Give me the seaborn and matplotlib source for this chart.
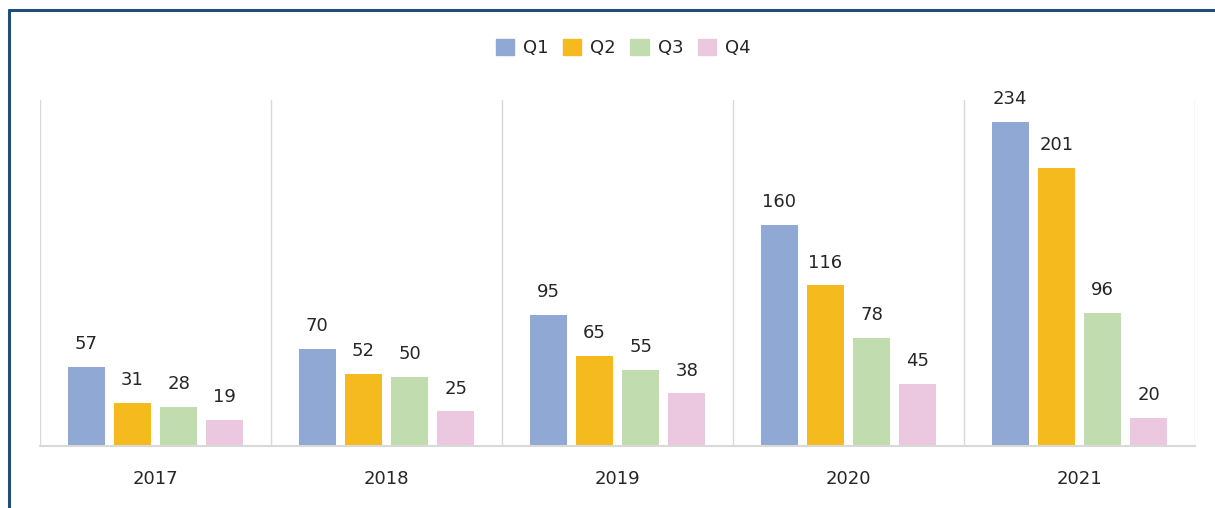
import pandas as pd
import matplotlib.pyplot as plt
import seaborn as sns
from matplotlib.lines import Line2D

years = ['2017', '2018', '2019', '2020', '2021']
quarters = ['Q1', 'Q2', 'Q3', 'Q4']
q1 = [57, 70, 95, 160, 234]
q2 = [31, 52, 65, 116, 201]
q3 = [28, 50, 55, 78, 96]
q4 = [19, 25, 38, 45, 20]
colors = ['#8FA8D4', '#F5BA1E', '#C1DCAE', '#EBC7E0']

df = pd.DataFrame({'year': years * 4,
                   'quarter': [q for q in quarters for _ in years],
                   'value': q1 + q2 + q3 + q4})

sns.set_theme(style='white')
plt.rcParams['font.family'] = ['DejaVu Sans']
text_col = '#262626'

fig = plt.figure(figsize=(12.15, 5.08), dpi=100)
ax = fig.add_axes([40 / 1215, 62 / 508, 1155 / 1215, 346 / 508])

sns.barplot(data=df, x='year', y='value', hue='quarter', palette=colors,
            width=0.8, gap=0.2, saturation=1, linewidth=0, ax=ax, legend=False)

for c in ax.containers:
    ax.bar_label(c, padding=10, fontsize=13, color=text_col)

ax.set_ylim(0, 250)
ax.set_xlim(-0.5, 4.5)
ax.set_yticks([])
ax.set_xlabel('')
ax.set_ylabel('')
ax.tick_params(axis='x', length=0, pad=17, labelsize=13, labelcolor=text_col)
for s in ['top', 'right', 'left']:
    ax.spines[s].set_visible(False)
ax.spines['bottom'].set_color('#D9D9D9')
ax.spines['bottom'].set_linewidth(1.5)
for x in [-0.5, 0.5, 1.5, 2.5, 3.5, 4.5]:
    ax.axvline(x, color='#D9D9D9', lw=1, zorder=0)

handles = [plt.Rectangle((0, 0), 1, 1, color=c) for c in colors]
fig.legend(handles, quarters, loc='upper center', bbox_to_anchor=(0.513, 0.955),
           ncol=4, frameon=False, fontsize=13, handlelength=1.0, handleheight=1.0,
           handletextpad=0.5, columnspacing=0.8, labelcolor=text_col)

# dark blue frame on left and top
fig.add_artist(Line2D([9 / 1215, 9 / 1215], [0, 1 - 9.5 / 508], color='#1F4E79', lw=2.2,
                      transform=fig.transFigure))
fig.add_artist(Line2D([9 / 1215, 1], [1 - 9.5 / 508, 1 - 9.5 / 508], color='#1F4E79', lw=2.2,
                      transform=fig.transFigure))

fig.savefig('out.png', dpi=100)
